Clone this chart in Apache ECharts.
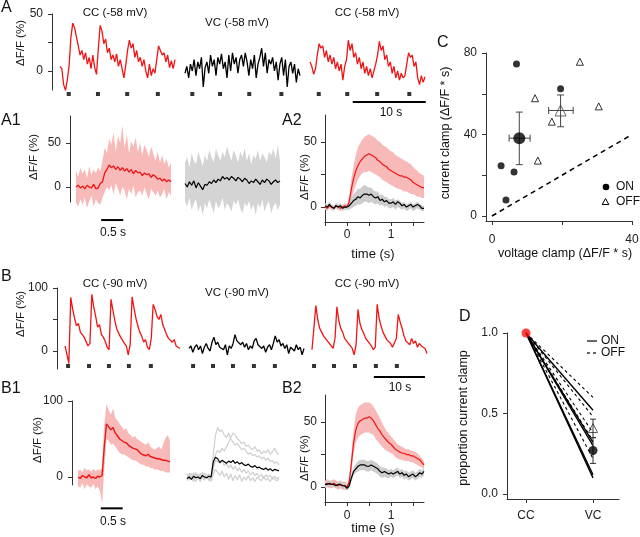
<!DOCTYPE html>
<html><head><meta charset="utf-8">
<script src="https://cdn.jsdelivr.net/npm/echarts@6/dist/echarts.min.js"></script>
<style>html,body{margin:0;padding:0;background:#fff}#c{width:640px;height:537px}</style>
</head><body><div id="c"></div>
<script>
// ---------------- DATA ----------------
// Panel A (holding -58 mV), long traces, sample step 0.25 s
const aDt = 0.25;
const aCC1 = [4,2,-12,-17,-8,5,30,42,38,30,22,14,18,10,16,6,12,2,14,3,-3,20,40,35,24,28,16,20,10,14,8,15,4,10,2,-6,5,18,27,20,24,12,18,8,12,4,10,0,-6,6,-4,2,-2,10,22,18,14,16,8,14,3,9,2,10];
const aVC  = [-2,4,-6,6,0,10,-4,8,2,12,-14,3,8,-2,14,4,10,-4,12,6,15,2,8,-6,14,0,16,6,12,-2,10,14,4,16,8,-4,10,2,14,-6,6,12,20,4,16,-2,10,6,12,0,8,-8,6,12,-4,10,-14,4,8,-2,6,-10,2,-4];
const aCC2 = [8,4,-3,2,14,24,20,22,12,18,8,14,6,12,2,8,0,6,-8,4,10,27,18,24,12,16,6,12,2,8,-2,4,-4,2,-6,0,6,14,26,18,22,10,14,4,8,-2,4,-6,0,-8,-2,-6,-4,6,16,12,14,4,8,-6,-12,-4,-10,-5];
const aStimCC1 = [1.2,5.2,9.2,13.4];
const aStimVC  = [1.0,4.8,8.8,13.2];
const aStimCC2 = [1.2,5.1,9.2,13.6];
const aTitles = ['CC (-58 mV)','VC (-58 mV)','CC (-58 mV)'];

// Panel A1 (single sweeps, step 0.05 s)
const a1Dt = 0.05;
const a1Red    = [0,2,-1,1,-2,2,0,-1,3,-2,-1,4,6,16,20,25,22,24,20,23,19,22,18,21,17,20,15,19,16,17,13,16,14,15,11,14,12,9,10,7,9,6,8,6];
const a1PinkHi = [18,12,22,15,20,10,24,14,20,16,22,18,30,45,38,55,48,62,40,58,50,70,44,60,38,52,46,56,40,50,36,48,42,34,46,38,30,40,28,36,26,32,22,28];
const a1PinkLo = [-18,-22,-14,-20,-12,-24,-16,-10,-22,-14,-18,-20,-12,-6,0,-4,2,-8,4,-2,-10,0,-4,-14,-2,-8,2,-12,-6,-4,-10,0,-8,-14,-2,-6,-10,-4,-12,-8,-2,-14,-6,-10];
const a1Black  = [4,0,6,2,7,-1,5,1,-3,3,2,6,4,8,5,9,7,12,9,11,8,12,10,7,11,9,6,10,8,4,7,5,9,6,3,8,5,9,7,3,6,8,5,7];
const a1GreyHi = [28,34,22,38,30,26,40,32,24,36,30,42,34,28,44,36,30,40,34,46,38,30,42,36,28,40,34,44,30,38,26,36,32,42,30,38,34,28,40,36,44,32,48,30];
const a1GreyLo = [-16,-22,-12,-26,-18,-14,-28,-20,-32,-18,-24,-14,-22,-30,-16,-24,-20,-12,-26,-18,-22,-28,-16,-20,-14,-24,-30,-18,-22,-16,-26,-20,-32,-18,-24,-14,-28,-20,-16,-30,-22,-18,-26,-20];

// Panel A2 (averages, t from -0.5 s, step 0.05 s)
const a2T0 = -0.5, a2Dt = 0.05;
const a2Red    = [0,-1,1,0,-1,1,0,-1,0,1,0,4,14,22,28,32,35,37,39,40,41,40,39,38,36,35,33,32,31,29,28,27,26,25,24,24,23,23,22,21,19,18,17,16,15,15];
const a2RedHi  = [2,1,3,2,1,3,2,1,2,3,2,8,22,32,40,46,49,52,54,55,56,55,54,53,51,50,48,47,46,44,43,42,40,39,38,37,36,35,34,33,31,29,28,26,25,24];
const a2RedLo  = [-2,-3,-1,-2,-3,-1,-2,-3,-2,-1,-2,0,6,12,17,21,24,26,27,27,28,27,26,25,24,23,21,20,19,18,17,16,15,14,14,13,12,12,11,10,10,9,8,8,7,7];
const a2Black  = [1,0,2,0,-1,1,0,1,-1,0,0,1,3,5,6,8,7,9,10,10,9,10,8,7,8,5,6,4,5,3,3,4,2,4,3,1,2,0,1,2,0,1,2,1,-1,-1];
const a2GreyHi = [3,2,4,2,1,3,2,3,1,2,2,4,7,10,12,14,14,16,17,16,15,15,13,12,12,9,10,8,8,6,6,7,5,6,5,3,4,2,3,4,2,3,4,3,1,1];
const a2GreyLo = [-1,-2,0,-2,-3,-1,-2,-1,-3,-2,-2,-2,-1,0,1,2,2,3,4,4,3,4,3,2,3,1,2,0,1,-1,-1,0,-2,0,-1,-2,-1,-3,-2,-1,-3,-2,-1,-2,-3,-3];

// Panel B (holding -90 mV), long traces, step 0.375 s
const bDt = 0.375;
const bCC1 = [8,-5,-20,85,66,52,40,44,30,33,22,20,8,12,90,70,55,38,42,26,22,15,6,2,82,65,48,35,38,22,24,12,8,-6,10,86,68,52,40,30,24,14,18,6,2,20,74,66,55,50,58,42,34,26,20,22,14,18,8,10,4];
const bVC  = [4,8,-2,6,10,2,8,-4,6,12,4,0,14,22,10,14,6,8,2,10,-6,8,4,12,26,16,18,10,14,6,12,2,8,4,16,20,10,12,4,8,-2,6,10,2,12,24,14,18,8,12,4,10,-4,6,8,0,10,2,6,-6,4];
const bCC2 = [2,0,72,50,36,30,24,26,16,18,8,4,20,70,48,36,30,20,22,12,14,4,-6,10,66,44,34,28,20,22,12,8,2,6,74,52,40,30,24,18,20,12,6,4,20,58,46,36,24,16,18,10,20,12,16,6,12,8,10,4,-4];
const bStimCC1 = [0.6,4.7,8.6,12.5,16.8];
const bStimVC  = [0.8,4.7,8.6,12.7,16.8];
const bStimCC2 = [0.4,4.3,8.4,12.5,16.6];
const bTitles = ['CC (-90 mV)','VC (-90 mV)','CC (-90 mV)'];

// Panel B1 (step 0.05 s)
const b1Dt = 0.05;
const b1Red    = [0,-2,2,0,-1,3,-1,0,-2,1,0,2,40,70,66,62,65,58,54,50,48,46,45,42,40,38,37,36,33,30,29,28,30,27,26,25,24,24,23,22,22,21,20];
const b1PinkHi = [8,10,6,12,9,10,7,11,8,10,9,12,70,96,88,82,90,78,74,70,66,62,64,58,55,52,54,50,48,46,44,42,46,40,38,36,38,40,36,44,52,55,48];
const b1PinkLo = [-12,-14,-8,-16,-10,-12,-14,-9,-16,-12,-18,-35,10,50,48,42,44,40,36,32,30,30,28,26,24,22,22,20,18,16,16,14,14,12,12,10,10,9,8,8,6,6,6];
const b1Black  = [-2,0,-3,1,-1,0,-2,2,0,-1,1,0,20,26,24,19,22,20,18,21,19,22,18,20,17,19,16,15,17,14,13,15,12,13,11,10,12,9,11,8,10,9,8];
// individual grey sweeps of B1 (VC)
const b1Sw1 = [2,-4,5,-2,6,0,-5,3,-1,4,-3,1,30,55,65,60,62,55,52,58,50,46,42,44,40,36,38,34,30,32,28,30,26,28,24,26,22,25,20,22,18,20,16];
const b1Sw2 = [-5,2,-3,6,-1,4,-6,1,5,-2,3,-4,15,30,35,32,38,34,40,45,52,58,55,50,48,44,46,40,42,38,36,40,34,36,30,34,32,36,30,33,38,32,30];
const b1Sw3 = [4,-2,0,-6,3,-3,5,-1,-4,2,-5,0,10,22,20,18,22,15,18,12,16,10,14,8,12,6,10,5,8,3,6,2,5,0,4,-2,3,0,2,-3,1,-2,0];
const b1Sw4 = [-3,5,-1,2,-6,1,-2,6,-3,0,4,-6,4,10,6,2,8,0,5,-3,4,-5,2,-4,3,-6,0,-4,2,-5,-1,-6,0,-3,-5,1,-4,-2,-6,0,-3,-5,-2];

// Panel B2 (t from -0.5 s, step 0.05 s)
const b2T0 = -0.5, b2Dt = 0.05;
const b2Red    = [2,3,2,2,3,2,1,2,1,1,0,4,18,34,44,49,51,52,53,53,54,53,51,48,45,43,40,38,36,34,33,31,29,28,27,26,26,25,25,24,24,23,22,21,19,17];
const b2RedHi  = [5,6,5,5,6,5,4,5,4,4,2,7,26,44,56,61,63,64,65,65,65,64,62,59,56,53,49,46,43,41,39,37,35,33,32,31,30,29,29,28,28,27,26,24,22,20];
const b2RedLo  = [-1,0,-1,-1,0,-1,-2,-1,-2,-2,-2,1,12,26,34,38,40,41,42,42,42,41,40,37,35,33,31,29,28,27,26,25,23,22,21,21,20,20,20,19,19,18,17,16,15,14];
const b2Black  = [2,2,3,2,2,1,2,2,1,1,-1,1,7,12,14,16,17,17,17,16,16,17,16,15,14,12,11,12,11,10,11,10,11,12,10,11,9,10,8,9,10,8,9,11,10,12];
const b2GreyHi = [4,4,5,4,4,3,4,4,3,3,1,3,10,15,18,20,21,21,21,20,20,21,20,19,18,16,15,15,14,13,14,13,14,15,13,14,12,13,11,12,13,11,12,14,13,15];
const b2GreyLo = [0,0,1,0,0,-1,0,0,-1,-1,-3,-1,4,9,11,12,13,13,13,12,12,13,12,11,10,8,7,8,7,7,8,7,8,9,7,8,6,7,5,6,7,5,6,8,7,9];

// Panel C (voltage clamp vs current clamp, ΔF/F * s)
const cOnX  = [7.0, 19.6, 2.6, 6.3, 4.0];
const cOnY  = [74.6, 62.5, 24.7, 21.6, 7.9];
const cOffX = [25.1, 12.3, 30.5, 17.1, 13.1];
const cOffY = [75.7, 57.8, 53.8, 46.3, 27.2];
const cOnMean  = {x:7.8,  y:38.2, xlo:4.9,  xhi:10.9, ylo:25.2, yhi:51.0};
const cOffMean = {x:19.6, y:51.8, xlo:16.2, xhi:23.2, ylo:43.8, yhi:59.4};
const cUnity = [0, 40];

// Panel D (proportion of current clamp)
const dCats = ['CC','VC'];
const dCC = 1.0;
const dOn  = [0.10, 0.12, 0.30, 0.32, 0.52];
const dOff = [0.22, 0.33, 0.38, 0.48, 0.60];
const dOnMean  = {y:0.27, lo:0.19, hi:0.35};
const dOffMean = {y:0.41, lo:0.35, hi:0.465};

// ---------------- BUILD ----------------
const FONT = '"Liberation Sans", Arial, Helvetica, sans-serif';
const AX = '#333';
const RED = '#f01414', PINK = '#f8b9b9', GREY = '#cdcdcd';
const grids = [], xAxes = [], yAxes = [], series = [];

function hidden(min, max){ return {type:'value', min, max, show:false, splitLine:{show:false}}; }
function vis(min, max, ticks, labels, fmt, margin, extra){
  return Object.assign({type:'value', min, max, show:true,
    axisLine:{show:true, onZero:false, lineStyle:{color:AX, width:1}},
    axisTick:{show:true, inside:false, length:4, customValues:ticks, lineStyle:{color:AX, width:1}},
    axisLabel:{show:true, customValues:labels, formatter:fmt || (v => String(v)), fontSize:12, color:'#222', fontFamily:FONT, margin:margin},
    splitLine:{show:false}}, extra || {});
}
function addGrid(left, top, width, height, xa, ya){
  grids.push({left, top, width, height, containLabel:false, outerBoundsMode:'none'});
  const i = grids.length - 1;
  xa.gridIndex = i; ya.gridIndex = i;
  xAxes.push(xa); yAxes.push(ya);
  return i;
}
function pts(vals, t0, dt){ return vals.map((v, k) => [t0 + k * dt, v]); }
function trace(gi, vals, t0, dt, color, w, z){
  series.push({type:'line', xAxisIndex:gi, yAxisIndex:gi, data:pts(vals, t0, dt), symbol:'none', showSymbol:false,
    lineStyle:{color, width:w || 1}, clip:false, silent:true, z:z || 3});
}
function band(gi, lo, hi, t0, dt, color){
  series.push({type:'custom', xAxisIndex:gi, yAxisIndex:gi, clip:false, silent:true, z:1,
    data:[[t0, lo[0]]],
    renderItem: function(p, api){
      const P = [];
      for (let k = 0; k < hi.length; k++) P.push(api.coord([t0 + k * dt, hi[k]]));
      for (let k = lo.length - 1; k >= 0; k--) P.push(api.coord([t0 + k * dt, lo[k]]));
      return {type:'polygon', shape:{points:P}, style:{fill:color, stroke:null}};
    }});
}
function stims(gi, times, yv){
  series.push({type:'scatter', xAxisIndex:gi, yAxisIndex:gi, data:times.map(t => [t, yv]), symbol:'rect', symbolSize:4,
    itemStyle:{color:'#000'}, clip:false, silent:true, z:4});
}
function scaleBar(gi, t0, len, yv){
  series.push({type:'line', xAxisIndex:gi, yAxisIndex:gi, data:[[t0, yv], [t0 + len, yv]], symbol:'none',
    lineStyle:{color:'#000', width:2}, clip:false, silent:true, z:4});
}
function errBars(gi, items, cap, color){
  series.push({type:'custom', xAxisIndex:gi, yAxisIndex:gi, clip:false, silent:true, z:3,
    data: items.map(it => [it.x, it.y]),
    renderItem: function(p, api){
      const it = items[p.dataIndex], ch = [];
      const L = (a, b) => ({type:'line', shape:{x1:a[0], y1:a[1], x2:b[0], y2:b[1]}, style:{stroke:color, lineWidth:1}});
      if (it.ylo != null){
        const a = api.coord([it.x, it.ylo]), b = api.coord([it.x, it.yhi]);
        ch.push(L(a, b), L([a[0]-cap, a[1]], [a[0]+cap, a[1]]), L([b[0]-cap, b[1]], [b[0]+cap, b[1]]));
      }
      if (it.xlo != null){
        const a = api.coord([it.xlo, it.y]), b = api.coord([it.xhi, it.y]);
        ch.push(L(a, b), L([a[0], a[1]-cap], [a[0], a[1]+cap]), L([b[0], b[1]-cap], [b[0], b[1]+cap]));
      }
      return {type:'group', children:ch};
    }});
}

// ---- Panel A top ----
{
  const ymin = -16.67, ymax = 50, tmax = 15.75;
  const yA = vis(ymin, ymax, [0,25,50], [0,50], null, 9, {offset:8});
  const g1 = addGrid(60, 14, 115, 76, hidden(0, tmax), yA);
  const g2 = addGrid(185, 14, 115, 76, hidden(0, tmax), hidden(ymin, ymax));
  const g3 = addGrid(310, 14, 115, 76, hidden(0, tmax), hidden(ymin, ymax));
  trace(g1, aCC1, 0, aDt, RED, 1.3); trace(g2, aVC, 0, aDt, '#000', 1.3); trace(g3, aCC2, 0, aDt, RED, 1.3);
  stims(g1, aStimCC1, -20.2); stims(g2, aStimVC, -20.2); stims(g3, aStimCC2, -20.2);
  scaleBar(g3, 5.85, 10, -27.2);
}
// ---- Panel A1 ----
{
  const ymin = -17, ymax = 80.7, tmax = 2.15;
  const g1 = addGrid(76, 116, 95, 86, hidden(0, tmax), vis(ymin, ymax, [0,50], [0,50], null, 9, {offset:6}));
  const g2 = addGrid(185, 116, 95, 86, hidden(0, tmax), hidden(ymin, ymax));
  band(g1, a1PinkLo, a1PinkHi, 0, a1Dt, PINK); trace(g1, a1Red, 0, a1Dt, RED, 1.3);
  band(g2, a1GreyLo, a1GreyHi, 0, a1Dt, '#d4d4d4'); trace(g2, a1Black, 0, a1Dt, '#000', 1.2);
  scaleBar(g1, 0.57, 0.5, -37.5);
}
// ---- Panel A2 ----
{
  const g = addGrid(325, 115, 99, 107,
    vis(-0.5, 1.75, [-0.5,0,0.5,1,1.5], [0,1], null, 7),
    vis(-11.5, 70.8, [0,25,50], [0,50], null, 8));
  band(g, a2RedLo, a2RedHi, a2T0, a2Dt, PINK); band(g, a2GreyLo, a2GreyHi, a2T0, a2Dt, GREY);
  trace(g, a2Red, a2T0, a2Dt, RED, 1.2); trace(g, a2Black, a2T0, a2Dt, '#000', 1.2);
}
// ---- Panel B top ----
{
  const ymin = -28.6, ymax = 100, tmax = 22.5;
  const g1 = addGrid(65, 288, 115, 81, hidden(0, tmax), vis(ymin, ymax, [0,50,100], [0,100], null, 9, {offset:8}));
  const g2 = addGrid(189, 288, 115, 81, hidden(0, tmax), hidden(ymin, ymax));
  const g3 = addGrid(312, 288, 115, 81, hidden(0, tmax), hidden(ymin, ymax));
  trace(g1, bCC1, 0, bDt, RED, 1.3); trace(g2, bVC, 0, bDt, '#000', 1.3); trace(g3, bCC2, 0, bDt, RED, 1.3);
  stims(g1, bStimCC1, -23.8); stims(g2, bStimVC, -23.8); stims(g3, bStimCC2, -23.8);
  scaleBar(g3, 12.1, 10, -41.3);
}
// ---- Panel B1 ----
{
  const ymin = -10.5, ymax = 100, tmax = 2.1;
  const g1 = addGrid(78, 401, 92, 84, hidden(0, tmax), vis(ymin, ymax, [0,100], [0,100], null, 9, {offset:6}));
  const g2 = addGrid(187, 401, 92, 84, hidden(0, tmax), hidden(ymin, ymax));
  band(g1, b1PinkLo, b1PinkHi, 0, b1Dt, PINK); trace(g1, b1Red, 0, b1Dt, RED, 1.4);
  [b1Sw1, b1Sw2, b1Sw3, b1Sw4].forEach(s => trace(g2, s, 0, b1Dt, '#cfcfcf', 1.2, 1));
  trace(g2, b1Black, 0, b1Dt, '#000', 1.2);
  scaleBar(g1, 0.52, 0.5, -41.2);
}
// ---- Panel B2 ----
{
  const g = addGrid(325, 395, 99, 107,
    vis(-0.5, 1.75, [-0.5,0,0.5,1,1.5], [0,1], null, 8),
    vis(-11.5, 70.8, [0,25,50], [0,50], null, 8));
  band(g, b2RedLo, b2RedHi, b2T0, b2Dt, PINK); band(g, b2GreyLo, b2GreyHi, b2T0, b2Dt, GREY);
  trace(g, b2Red, b2T0, b2Dt, RED, 1.2); trace(g, b2Black, b2T0, b2Dt, '#000', 1.2);
}
// ---- Panel C ----
{
  const g = addGrid(486, 53, 146, 168,
    vis(-1.71, 40, [0,20,40], [0,40], null, 13),
    vis(-2.45, 80, [0,20,40,60,80], [0,40,80], null, 9));
  series.push({type:'line', xAxisIndex:g, yAxisIndex:g, data:cUnity.map(v => [v, v]), symbol:'none',
    lineStyle:{color:'#000', width:1.5, type:[5,4]}, clip:false, silent:true, z:2});
  errBars(g, [cOnMean, cOffMean], 3.5, '#444');
  series.push({type:'scatter', xAxisIndex:g, yAxisIndex:g, data:cOnX.map((x,k) => [x, cOnY[k]]), symbol:'circle', symbolSize:7,
    itemStyle:{color:'#000'}, clip:false, silent:true, z:4});
  series.push({type:'scatter', xAxisIndex:g, yAxisIndex:g, data:cOffX.map((x,k) => [x, cOffY[k]]), symbol:'triangle', symbolSize:7,
    itemStyle:{color:'#fff', borderColor:'#000', borderWidth:1}, clip:false, silent:true, z:4});
  series.push({type:'scatter', xAxisIndex:g, yAxisIndex:g, data:[[cOnMean.x, cOnMean.y]], symbol:'circle', symbolSize:12,
    itemStyle:{color:'#000'}, clip:false, silent:true, z:5});
  series.push({type:'scatter', xAxisIndex:g, yAxisIndex:g, data:[[cOffMean.x, cOffMean.y]], symbol:'triangle', symbolSize:11,
    itemStyle:{color:'rgba(255,255,255,0)', borderColor:'#444', borderWidth:1}, clip:false, silent:true, z:5});
}
// ---- Panel D ----
{
  const g = addGrid(507, 333, 112, 166,
    vis(-0.284, 1.388, [0,1], [0,1], v => dCats[Math.round(v)], 11),
    vis(-0.031, 1.0, [0,0.5,1], [0,0.5,1], v => v.toFixed(1), 9));
  dOn.forEach(v => series.push({type:'line', xAxisIndex:g, yAxisIndex:g, data:[[0, dCC], [1, v]], symbol:'none',
    lineStyle:{color:'#000', width:1.4}, clip:false, silent:true, z:2}));
  dOff.forEach(v => series.push({type:'line', xAxisIndex:g, yAxisIndex:g, data:[[0, dCC], [1, v]], symbol:'none',
    lineStyle:{color:'#000', width:1.1, type:[3,3]}, clip:false, silent:true, z:2}));
  errBars(g, [{x:1, y:dOnMean.y, ylo:dOnMean.lo, yhi:dOnMean.hi}, {x:1, y:dOffMean.y, ylo:dOffMean.lo, yhi:dOffMean.hi}], 3, '#333');
  series.push({type:'scatter', xAxisIndex:g, yAxisIndex:g, data:[[1, dOnMean.y]], symbol:'circle', symbolSize:9,
    itemStyle:{color:'#000'}, clip:false, silent:true, z:5});
  series.push({type:'scatter', xAxisIndex:g, yAxisIndex:g, data:[[1, dOffMean.y]], symbol:'triangle', symbolSize:9,
    itemStyle:{color:'rgba(255,255,255,0)', borderColor:'#333', borderWidth:1}, clip:false, silent:true, z:5});
  series.push({type:'scatter', xAxisIndex:g, yAxisIndex:g, data:[[0, dCC]], symbol:'circle', symbolSize:9,
    itemStyle:{color:'#ff1010'}, clip:false, silent:true, z:5});
}

// ---------------- TEXT ----------------
function T(text, x, y, size, o){
  o = o || {};
  const al = o.align || 'center';
  return {type:'text', x, y, rotation:o.rot ? Math.PI/2 : 0, silent:true, z:10,
    style:{text, font:size + 'px ' + FONT, fill:'#111', align:al, verticalAlign:'middle', textAlign:al, textVerticalAlign:'middle'}};
}
const R = {rot:true}, Lf = {align:'left'};
const gfx = [
  T('A', 1, 8, 16, Lf),
  T(aTitles[0], 115, 13, 11.5), T(aTitles[1], 237, 23, 11.5), T(aTitles[2], 367, 13, 11.5),
  T('ΔF/F (%)', 21, 43, 11.5, R),
  T('10 s', 391, 113, 12),
  T('A1', 1, 121, 16, Lf),
  T('ΔF/F (%)', 34, 157, 11.5, R),
  T('0.5 s', 113, 233, 12),
  T('A2', 282, 121, 16, Lf),
  T('ΔF/F (%)', 305, 177, 11.5, R),
  T('time (s)', 373, 254, 13),
  T('C', 437, 43, 16, Lf),
  T('current clamp (ΔF/F * s)', 446, 133, 12.5, R),
  T('voltage clamp (ΔF/F * s)', 565, 254, 12.5),
  T('ON', 616, 187, 12, Lf), T('OFF', 616, 202, 12, Lf),
  T('B', 1, 277, 16, Lf),
  T(bTitles[0], 115, 284, 11.5), T(bTitles[1], 237, 293, 11.5), T(bTitles[2], 367, 284, 11.5),
  T('ΔF/F (%)', 21, 314, 11.5, R),
  T('10 s', 400, 388, 12),
  T('B1', 1, 389, 16, Lf),
  T('ΔF/F (%)', 38, 440, 11.5, R),
  T('0.5 s', 113, 522, 12),
  T('B2', 282, 389, 16, Lf),
  T('ΔF/F (%)', 305, 458, 11.5, R),
  T('time (s)', 373, 528, 13),
  T('D', 459, 317, 16, Lf),
  T('proportion current clamp', 464, 418, 12.5, R),
  T('ON', 601, 341, 12, Lf), T('OFF', 601, 353, 12, Lf),
  // legend glyphs
  {type:'circle', shape:{cx:606, cy:187, r:3.3}, style:{fill:'#000'}, silent:true},
  {type:'polygon', shape:{points:[[605.5,198.5],[608.8,204.5],[602.2,204.5]]}, style:{fill:'#fff', stroke:'#000', lineWidth:1}, silent:true},
  {type:'line', shape:{x1:587, y1:341, x2:597, y2:341}, style:{stroke:'#000', lineWidth:1.2}, silent:true},
  {type:'line', shape:{x1:587, y1:353, x2:598, y2:353}, style:{stroke:'#000', lineWidth:1.2, lineDash:[3,3]}, silent:true}
];

const chart = echarts.init(document.getElementById('c'), null, {renderer:'canvas'});
chart.setOption({animation:false, backgroundColor:'#fff', grid:grids, xAxis:xAxes, yAxis:yAxes, series, graphic:{elements:gfx}});
</script></body></html>
